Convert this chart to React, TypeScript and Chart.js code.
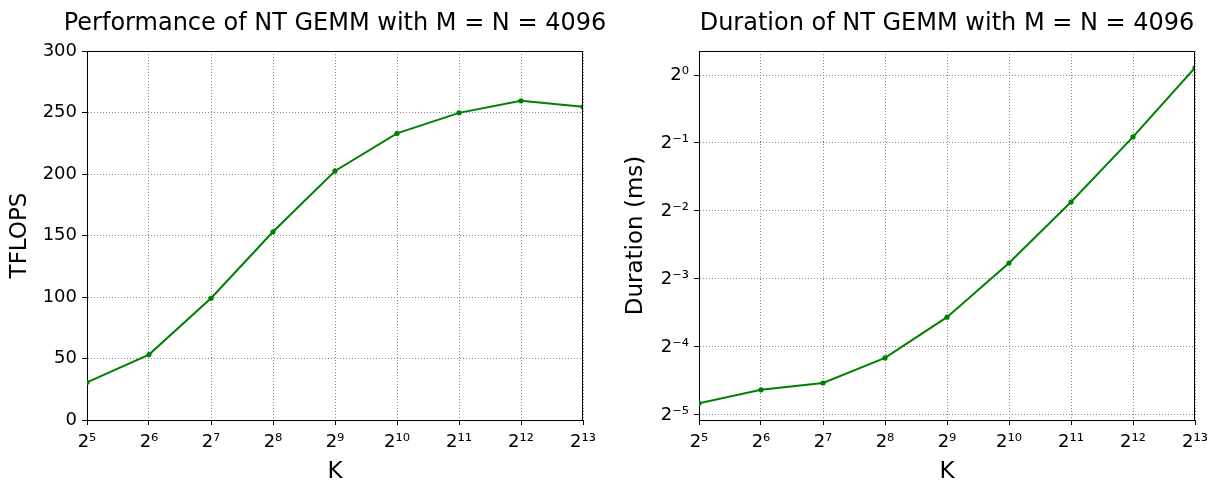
import React, { useEffect, useRef } from "react";
import { Chart, registerables } from "chart.js";

Chart.register(...registerables);

// ---- data ----
const kValues = [32, 64, 128, 256, 512, 1024, 2048, 4096, 8192];
const tflopsValues = [30.6, 53.2, 99, 153, 202.5, 233, 249.7, 259.5, 254.6];
const durationMsValues = [0.0352, 0.0404, 0.0433, 0.0559, 0.0847, 0.147, 0.274, 0.532, 1.077];
const xTickExponents = [5, 6, 7, 8, 9, 10, 11, 12, 13];
const tflopsTicks = [0, 50, 100, 150, 200, 250, 300];
const durationTickExponents = [-5, -4, -3, -2, -1, 0];

const leftTitle = "Performance of NT GEMM with M = N = 4096";
const rightTitle = "Duration of NT GEMM with M = N = 4096";
const xAxisTitle = "K";
const leftYTitle = "TFLOPS";
const rightYTitle = "Duration (ms)";

const FONT = "'DejaVu Sans', 'Liberation Sans', sans-serif";
const GREEN = "#008000";
const GRID = "#8a8a8a";

const SUP: Record<string, string> = {
  "0": "⁰", "1": "¹", "2": "²", "3": "³", "4": "⁴",
  "5": "⁵", "6": "⁶", "7": "⁷", "8": "⁸", "9": "⁹", "-": "⁻",
};
const pow2Label = (e: number) =>
  "2" + String(e).split("").map((c) => SUP[c] ?? c).join("");

const framePlugin = {
  id: "frame",
  afterDatasetsDraw(chart: any) {
    const { ctx, chartArea } = chart;
    const l = Math.round(chartArea.left) + 0.5;
    const t = Math.round(chartArea.top) + 0.5;
    const r = Math.round(chartArea.right) - 0.5;
    const b = Math.round(chartArea.bottom) + 0.5;
    ctx.save();
    ctx.strokeStyle = "#000";
    ctx.lineWidth = 1;
    ctx.beginPath();
    ctx.moveTo(l, t);
    ctx.lineTo(r, t);
    ctx.lineTo(r, b);
    ctx.stroke();
    ctx.restore();
  },
};

function makeConfig(
  values: number[],
  title: string,
  yTitle: string,
  yTitlePad: number,
  yScale: any
) {
  return {
    type: "line" as const,
    data: {
      datasets: [
        {
          data: kValues.map((k, i) => ({ x: k, y: values[i] })),
          borderColor: GREEN,
          backgroundColor: GREEN,
          borderWidth: 2,
          pointRadius: 2.6,
          pointHoverRadius: 2.6,
          pointBorderWidth: 0,
          pointBackgroundColor: GREEN,
          tension: 0,
          fill: false,
        },
      ],
    },
    options: {
      animation: false,
      responsive: false,
      maintainAspectRatio: false,
      events: [],
      layout: { padding: 0 },
      plugins: {
        legend: { display: false },
        tooltip: { enabled: false },
        title: {
          display: true,
          text: title,
          color: "#000",
          font: { family: FONT, size: 24, weight: "normal" },
          padding: { top: 9.3, bottom: 12.9 },
        },
      },
      scales: {
        x: {
          type: "logarithmic",
          position: "bottom",
          min: kValues[0],
          max: kValues[kValues.length - 1],
          afterBuildTicks: (s: any) => {
            s.ticks = xTickExponents.map((e) => ({ value: Math.pow(2, e) }));
          },
          afterFit: (s: any) => {
            s.height = 70;
            s.paddingLeft = 0;
            s.paddingRight = 87;
          },
          ticks: {
            autoSkip: false,
            maxRotation: 0,
            minRotation: 0,
            padding: 7,
            color: "#000",
            font: { family: FONT, size: 18 },
            callback: (v: any) => pow2Label(Math.round(Math.log2(Number(v)))),
          },
          grid: {
            color: GRID,
            lineWidth: 1,
            tickLength: 5,
            tickColor: "#000",
            tickWidth: 1,
            tickBorderDash: [],
          },
          border: { display: true, color: "#000", width: 1, dash: [1, 2] },
          title: {
            display: true,
            text: xAxisTitle,
            color: "#000",
            font: { family: FONT, size: 23 },
            padding: { top: 0, bottom: 4.1 },
          },
        },
        y: {
          ...yScale,
          position: "left",
          afterFit: (s: any) => {
            s.width = 87;
            s.paddingTop = 0;
            s.paddingBottom = 0;
          },
          grid: {
            color: GRID,
            lineWidth: 1,
            tickLength: 5,
            tickColor: "#000",
            tickWidth: 1,
            tickBorderDash: [],
          },
          border: { display: true, color: "#000", width: 1, dash: [1, 2] },
          title: {
            display: true,
            text: yTitle,
            color: "#000",
            font: { family: FONT, size: 23 },
            padding: { top: yTitlePad, bottom: 0 },
          },
        },
      },
    },
    plugins: [framePlugin],
  };
}

export default function App() {
  const leftRef = useRef<HTMLCanvasElement>(null);
  const rightRef = useRef<HTMLCanvasElement>(null);

  useEffect(() => {
    const leftY = {
      type: "linear",
      min: tflopsTicks[0],
      max: tflopsTicks[tflopsTicks.length - 1],
      afterBuildTicks: (s: any) => {
        s.ticks = tflopsTicks.map((v) => ({ value: v }));
      },
      ticks: {
        padding: 5,
        color: "#000",
        font: { family: FONT, size: 18 },
        callback: (v: any) => String(v),
      },
    };
    const rightY = {
      type: "logarithmic",
      min: Math.pow(2, -5.074),
      max: Math.pow(2, 0.353),
      afterBuildTicks: (s: any) => {
        s.ticks = durationTickExponents.map((e) => ({ value: Math.pow(2, e) }));
      },
      ticks: {
        padding: 5,
        color: "#000",
        font: { family: FONT, size: 18 },
        callback: (v: any) => pow2Label(Math.round(Math.log2(Number(v)))),
      },
    };
    const c1 = new Chart(
      leftRef.current!,
      makeConfig(tflopsValues, leftTitle, leftYTitle, 6.1, leftY) as any
    );
    const c2 = new Chart(
      rightRef.current!,
      makeConfig(durationMsValues, rightTitle, rightYTitle, 9.9, rightY) as any
    );
    return () => {
      c1.destroy();
      c2.destroy();
    };
  }, []);

  return (
    <div
      style={{
        position: "absolute",
        left: 0,
        top: 0,
        width: 1217,
        height: 481,
        overflow: "hidden",
        background: "#fff",
      }}
    >
      <canvas
        ref={leftRef}
        width={670}
        height={490}
        style={{ position: "absolute", left: 0, top: 0, width: 670, height: 490 }}
      />
      <canvas
        ref={rightRef}
        width={670}
        height={490}
        style={{ position: "absolute", left: 612, top: 0, width: 670, height: 490 }}
      />
    </div>
  );
}
